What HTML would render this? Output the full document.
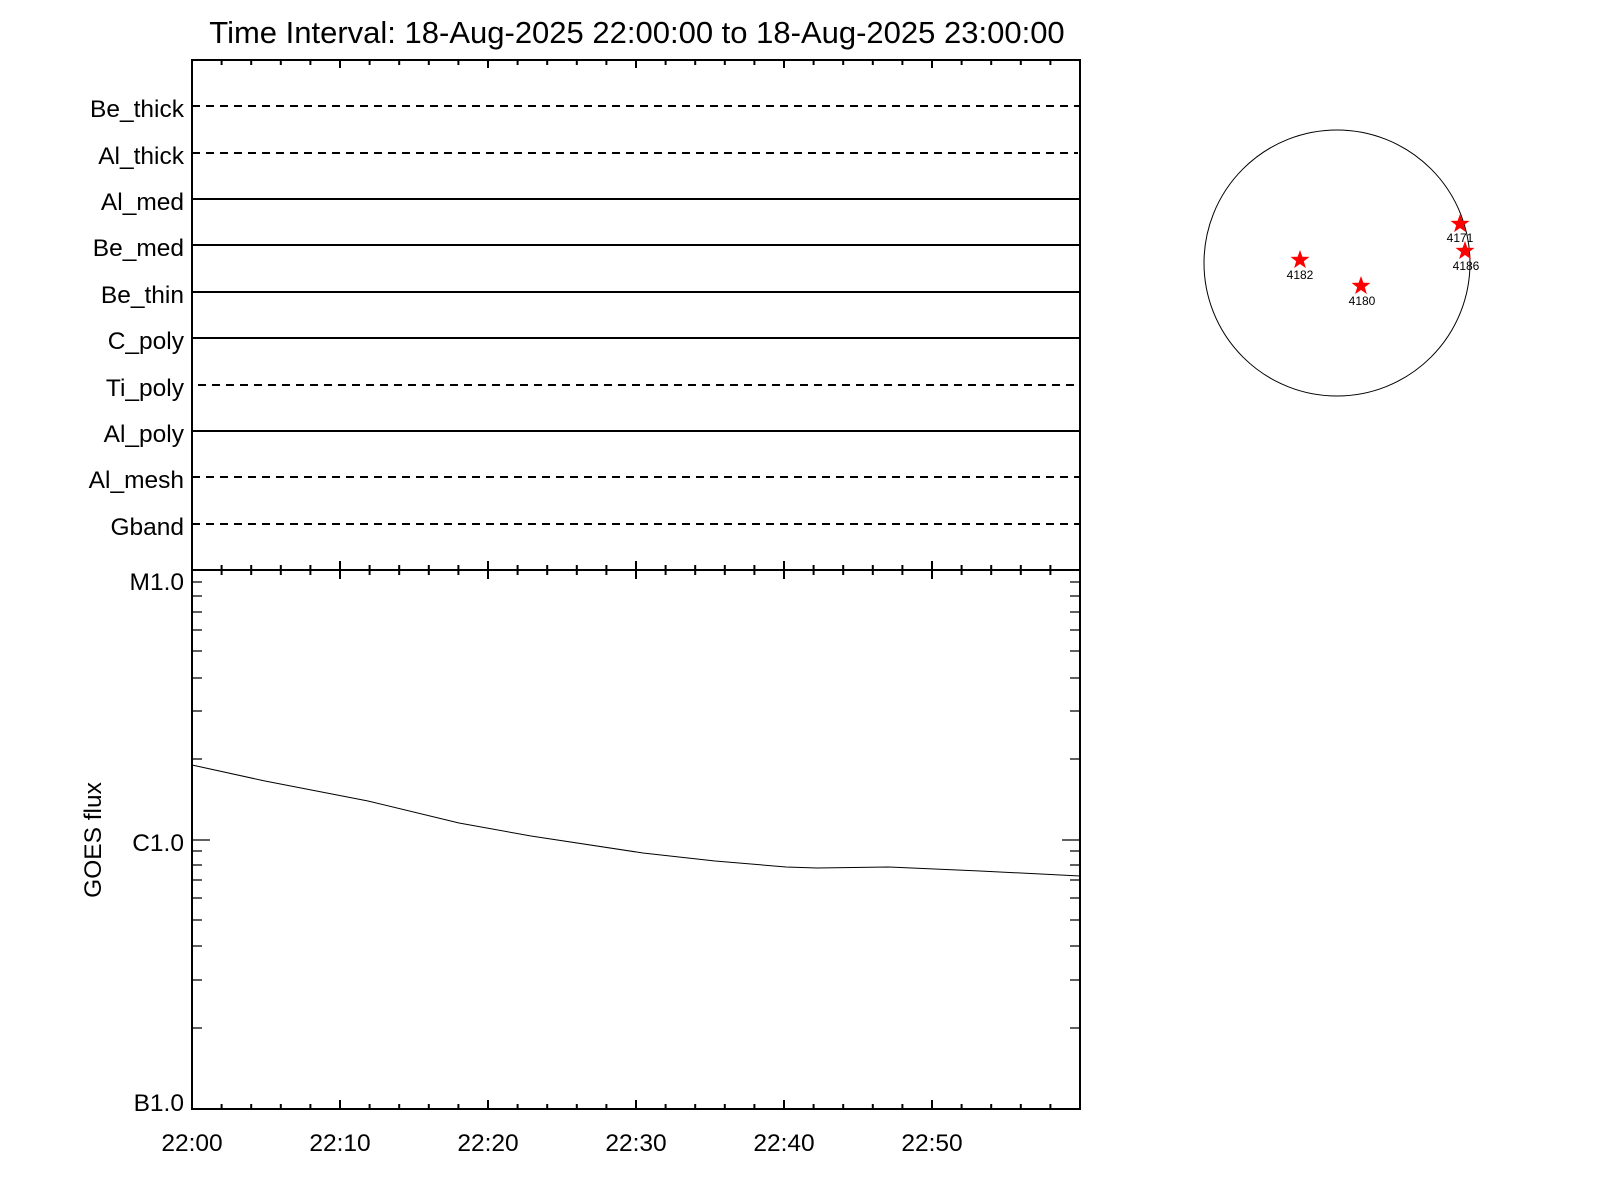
<!DOCTYPE html>
<html><head><meta charset="utf-8"><style>body{margin:0;background:#fff}svg{display:block}text{font-family:"Liberation Sans",sans-serif;fill:#000}</style></head><body>
<svg width="1600" height="1200" viewBox="0 0 1600 1200" xmlns="http://www.w3.org/2000/svg">
<text x="637" y="43" font-size="31" text-anchor="middle">Time Interval: 18-Aug-2025 22:00:00 to 18-Aug-2025 23:00:00</text>
<g stroke="#000" stroke-width="2" fill="none">
<rect x="192" y="60" width="888" height="1049"/>
<line x1="192" y1="570" x2="1080" y2="570"/>
<line x1="192" y1="106" x2="1080" y2="106" stroke-dasharray="8,6"/>
<line x1="192" y1="153" x2="1078" y2="153" stroke-dasharray="8,6"/>
<line x1="192" y1="199" x2="1080" y2="199"/>
<line x1="192" y1="245" x2="1080" y2="245"/>
<line x1="192" y1="292" x2="1080" y2="292"/>
<line x1="192" y1="338" x2="1080" y2="338"/>
<line x1="198" y1="385" x2="1076" y2="385" stroke-dasharray="8,6"/>
<line x1="192" y1="431" x2="1080" y2="431"/>
<line x1="192" y1="477" x2="1080" y2="477" stroke-dasharray="8,6"/>
<line x1="192" y1="524" x2="1080" y2="524" stroke-dasharray="8,6"/>
<path d="M221.6 60v5M251.2 60v5M280.8 60v5M310.4 60v5M340 60v8M369.6 60v5M399.2 60v5M428.8 60v5M458.4 60v5M488 60v8M517.6 60v5M547.2 60v5M576.8 60v5M606.4 60v5M636 60v8M665.6 60v5M695.2 60v5M724.8 60v5M754.4 60v5M784 60v8M813.6 60v5M843.2 60v5M872.8 60v5M902.4 60v5M932 60v8M961.6 60v5M991.2 60v5M1020.8 60v5M1050.4 60v5"/>
<path d="M221.6 565v10M251.2 565v10M280.8 565v10M310.4 565v10M340 561v18M369.6 565v10M399.2 565v10M428.8 565v10M458.4 565v10M488 561v18M517.6 565v10M547.2 565v10M576.8 565v10M606.4 565v10M636 561v18M665.6 565v10M695.2 565v10M724.8 565v10M754.4 565v10M784 561v18M813.6 565v10M843.2 565v10M872.8 565v10M902.4 565v10M932 561v18M961.6 565v10M991.2 565v10M1020.8 565v10M1050.4 565v10"/>
<path d="M221.6 1109v-5M251.2 1109v-5M280.8 1109v-5M310.4 1109v-5M340 1109v-9M369.6 1109v-5M399.2 1109v-5M428.8 1109v-5M458.4 1109v-5M488 1109v-9M517.6 1109v-5M547.2 1109v-5M576.8 1109v-5M606.4 1109v-5M636 1109v-9M665.6 1109v-5M695.2 1109v-5M724.8 1109v-5M754.4 1109v-5M784 1109v-9M813.6 1109v-5M843.2 1109v-5M872.8 1109v-5M902.4 1109v-5M932 1109v-9M961.6 1109v-5M991.2 1109v-5M1020.8 1109v-5M1050.4 1109v-5"/>
</g>
<g stroke="#000" stroke-width="1.3">
<path d="M192 582h10M192 596h10M192 612h10M192 630h10M192 651h10M192 678h10M192 711h10M192 759h10M192 840h18M192 851h10M192 865h10M192 880h10M192 898h10M192 920h10M192 946h10M192 980h10M192 1028h10"/>
<path d="M1080 582h-10M1080 596h-10M1080 612h-10M1080 630h-10M1080 651h-10M1080 678h-10M1080 711h-10M1080 759h-10M1080 840h-18M1080 851h-10M1080 865h-10M1080 880h-10M1080 898h-10M1080 920h-10M1080 946h-10M1080 980h-10M1080 1028h-10"/>
</g>
<polyline fill="none" stroke="#000" stroke-width="1" points="192,765 265,781 368,801 459,823 531,836 643,853 715,861 786,867 817,868 888,867 980,871 1080,876"/>
<g font-size="24.5" text-anchor="end">
<text x="184" y="117">Be_thick</text>
<text x="184" y="164">Al_thick</text>
<text x="184" y="210">Al_med</text>
<text x="184" y="256">Be_med</text>
<text x="184" y="303">Be_thin</text>
<text x="184" y="349">C_poly</text>
<text x="184" y="396">Ti_poly</text>
<text x="184" y="442">Al_poly</text>
<text x="184" y="488">Al_mesh</text>
<text x="184" y="535">Gband</text>
<text x="184" y="590">M1.0</text>
<text x="184" y="851">C1.0</text>
<text x="184" y="1111">B1.0</text>
</g>
<g font-size="24.5" text-anchor="middle">
<text x="192" y="1151">22:00</text><text x="340" y="1151">22:10</text><text x="488" y="1151">22:20</text><text x="636" y="1151">22:30</text><text x="784" y="1151">22:40</text><text x="932" y="1151">22:50</text>
</g>
<text transform="translate(101,840) rotate(-90)" font-size="24.5" text-anchor="middle">GOES flux</text>
<circle cx="1337" cy="263" r="133" fill="none" stroke="#000" stroke-width="1"/>
<defs><polygon id="st" points="0,-10 2.4,-3.2 9.5,-3.1 3.8,1.2 5.9,8.1 0,4 -5.9,8.1 -3.8,1.2 -9.5,-3.1 -2.4,-3.2" fill="#f00"/></defs>
<use href="#st" x="1300" y="260"/><use href="#st" x="1361" y="286"/><use href="#st" x="1460" y="224"/><use href="#st" x="1465" y="251"/>
<g font-size="12" text-anchor="middle">
<text x="1300" y="279">4182</text><text x="1362" y="305">4180</text><text x="1460" y="242">4171</text><text x="1466" y="270">4186</text>
</g>
</svg>
</body></html>
